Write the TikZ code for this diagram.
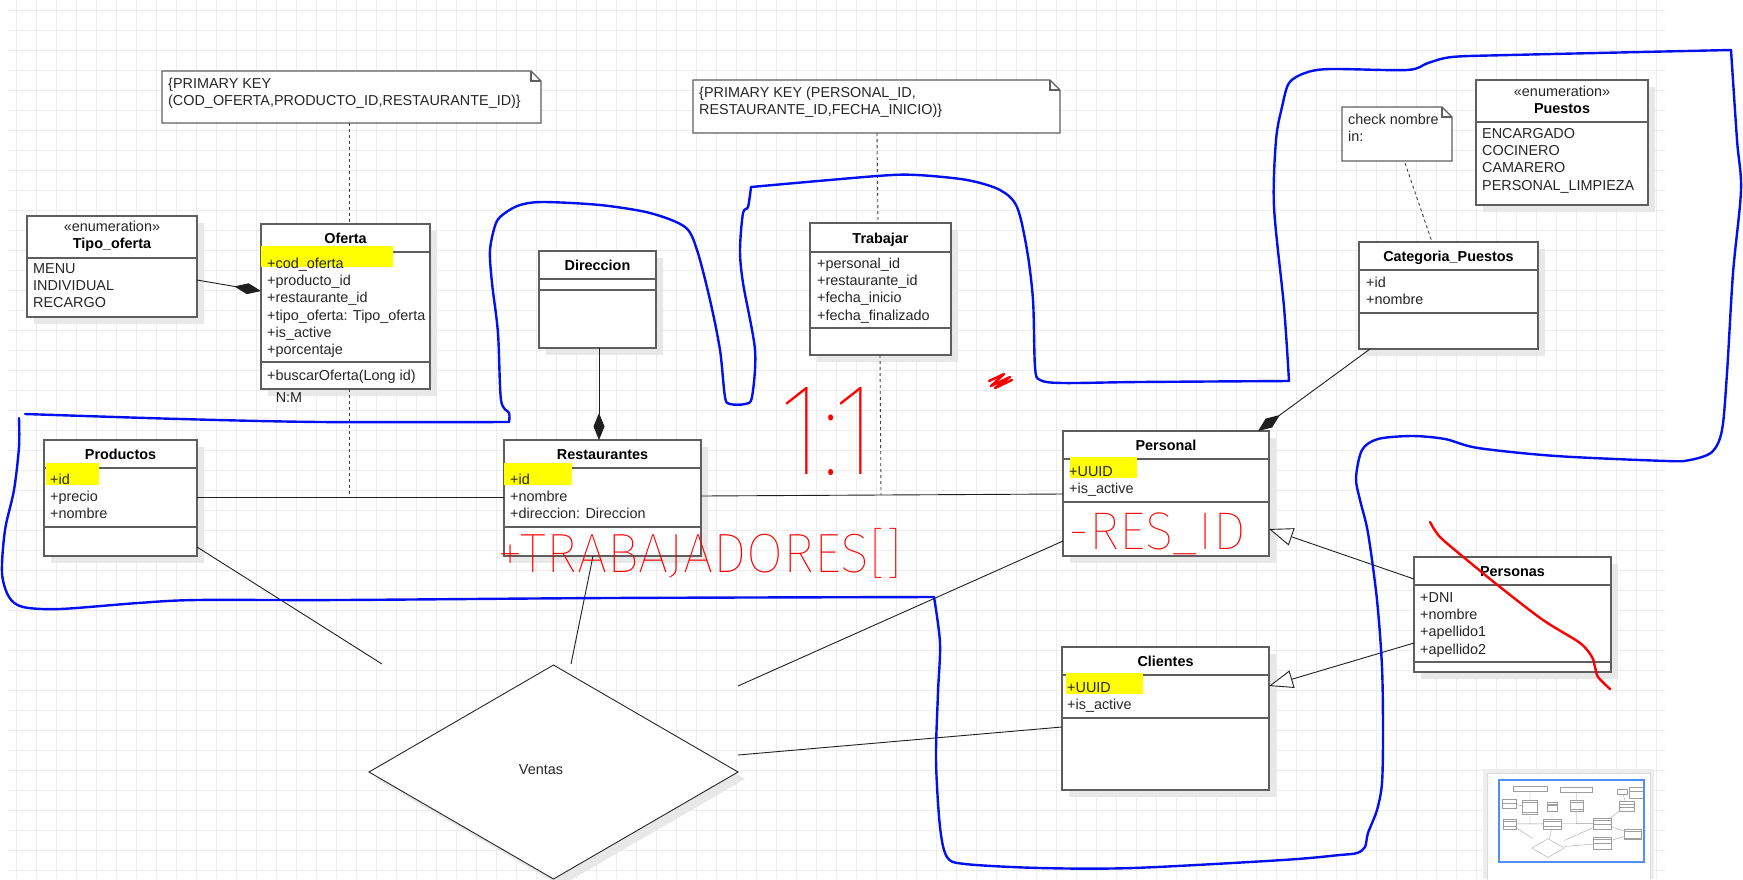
\documentclass[tikz,border=0pt]{standalone}
\usepackage{fontspec}
\setmainfont{Liberation Sans}
\newfontfamily\handfont{Fira Sans Thin}
\usetikzlibrary{arrows.meta,calc,shapes.geometric}
\definecolor{boxc}{HTML}{5E5E5E}
\definecolor{txtc}{HTML}{262626}
\definecolor{gridc}{HTML}{EDEDED}
\definecolor{shadc}{HTML}{E8E8E8}
\definecolor{hly}{HTML}{FFFF00}
\definecolor{penblue}{HTML}{0010F0}
\definecolor{penred}{HTML}{FF0000}
\definecolor{minib}{HTML}{4F8FF7}
\newcommand{\strt}{\rule{0pt}{10.5pt}}
\tikzset{
  boxs/.style={draw=boxc, line width=1.3pt, fill=white, inner sep=0pt, outer sep=0pt, anchor=north west},
  divl/.style={draw=boxc, line width=1.3pt},
  notel/.style={draw=boxc, line width=1.3pt, fill=white, line join=miter},
  ttl/.style={font={\bfseries\fontsize{14.4}{17.28}\selectfont}, text=black, inner sep=0pt, anchor=base},
  stereo/.style={font={\fontsize{14.4}{17.28}\selectfont}, text=txtc, inner sep=0pt, anchor=base},
  attr/.style={font={\fontsize{14.4}{17.28}\selectfont}, text=txtc, inner sep=0pt, align=left, anchor=north west},
  conn/.style={draw=black!88, line width=0.9pt},
  dashc/.style={draw=black!75, line width=0.9pt, dash pattern=on 3pt off 3pt},
  comp/.style={conn, -{Diamond[length=27pt,width=11pt]}},
  gener/.style={conn, -{Triangle[length=24pt,width=18pt,fill=white]}},
  bluepen/.style={draw=penblue, line width=2.4pt, line join=round, line cap=round},
  redpen/.style={draw=penred, line width=2.4pt, line join=round, line cap=round},
  redtxt/.style={text=penred, inner sep=0pt, outer sep=0pt, font=\handfont},
  mini/.style={draw=black!38, line width=0.35pt},
}
\newcommand{\umlclass}[7]{%
  \fill[shadc] (#2+7,#3+7) rectangle (#4+7,#5+7);
  \node[boxs, minimum width={#4-#2}, minimum height={#5-#3}] (#1) at (#2,#3) {};
  \draw[divl] (#2,#6) -- (#4,#6);
  \draw[divl] (#2,#7) -- (#4,#7);
}
\newcommand{\umlenum}[6]{%
  \fill[shadc] (#2+7,#3+7) rectangle (#4+7,#5+7);
  \node[boxs, minimum width={#4-#2}, minimum height={#5-#3}] (#1) at (#2,#3) {};
  \draw[divl] (#2,#6) -- (#4,#6);
}
\newcommand{\umlnote}[5]{%
  \node[inner sep=0pt, outer sep=0pt, anchor=north west, minimum width={#4-#2}, minimum height={#5-#3}] (#1) at (#2,#3) {};
  \draw[notel] (#1.north west) -- ([xshift=-10pt]#1.north east) -- ([yshift=-10pt]#1.north east) -- (#1.south east) -- (#1.south west) -- cycle;
  \draw[notel, fill=none] ([xshift=-10pt]#1.north east) -- ([xshift=-10pt,yshift=-10pt]#1.north east) -- ([yshift=-10pt]#1.north east);
}
\newcommand{\miniclass}[6]{%
  \draw[mini, fill=white] (#1,#2) rectangle (#3,#4);
  \draw[mini] (#1,#5) -- (#3,#5);
  \draw[mini] (#1,#6) -- (#3,#6);
}
\begin{document}
\begin{tikzpicture}[x=1pt, y=-1pt]
\useasboundingbox (0,0) rectangle (1743,879);
\fill[white] (0,0) rectangle (1743,879);
% grid
\foreach \i in {0,...,82} \draw[gridc, line width=0.9pt] (16.7+20*\i,0) -- (16.7+20*\i,879);
\foreach \j in {0,...,43} \draw[gridc, line width=0.9pt] (8,10+20*\j) -- (1665,10+20*\j);

% ---------- notes ----------
\umlnote{note1}{162}{71}{541}{123}
\umlnote{note2}{693}{80}{1060}{133}
\umlnote{note3}{1342}{107}{1452}{161}

% ---------- classes ----------
\umlenum{tipo}{27}{216}{197}{317}{258}
\umlclass{oferta}{261}{224}{430}{389}{252}{362}
\umlclass{direccion}{539}{251}{656}{348}{279}{290}
\umlclass{trabajar}{810}{223}{951}{355}{252}{328}
\umlenum{puestos}{1476}{80}{1648}{205}{122}
\umlclass{cat}{1359}{242}{1538}{349}{270}{313}
\umlclass{prod}{44}{440}{197}{556}{468}{527}
\umlclass{rest}{504}{440}{701}{556}{468}{527}
\umlclass{personal}{1063}{431}{1269}{556}{459}{502}
\umlclass{clientes}{1062}{647}{1269}{790}{675}{718}
\umlclass{personas}{1414}{557}{1611}{672}{585}{662}

% Ventas
\fill[shadc] (376,779) -- (560.5,672) -- (745,779) -- (560.5,886) -- cycle;
\node[shape=diamond, draw=black!85, line width=0.9pt, fill=white, minimum width=369pt, minimum height=214pt, inner sep=0pt, outer sep=0pt] (ventas) at (553.5,772) {};

% highlights
\fill[hly] (261,246) rectangle (393,267);
\fill[hly] (46,463) rectangle (99,485);
\fill[hly] (504,463) rectangle (572,485);
\fill[hly] (1070,457) rectangle (1137,478);
\fill[hly] (1066,673) rectangle (1143,694);

% ---------- texts ----------
\node[attr] (note1-t) at (168,77.5) {\strt\{PRIMARY KEY\\(COD\_OFERTA,PRODUCTO\_ID,RESTAURANTE\_ID)\}};
\node[attr] (note2-t) at (699,86.5) {\strt\{PRIMARY KEY (PERSONAL\_ID,\\RESTAURANTE\_ID,FECHA\_INICIO)\}};
\node[attr] (note3-t) at (1348,113.5) {\strt check nombre\\in:};

\node[stereo] (tipo-st) at (112,231) {«enumeration»};
\node[ttl] (tipo-n) at (112,248) {Tipo\_oferta};
\node[attr] (tipo-i) at (33,262.5) {\strt MENU\\INDIVIDUAL\\RECARGO};

\node[ttl] (oferta-n) at (345.5,243) {Oferta};
\node[attr] (oferta-a) at (267,257.5) {\strt +cod\_oferta\\+producto\_id\\+restaurante\_id\\+tipo\_oferta: Tipo\_oferta\\+is\_active\\+porcentaje};
\node[attr] (oferta-m) at (267,369.5) {\strt +buscarOferta(Long id)};
\node[stereo] (nm) at (289,402) {N:M};

\node[ttl] (direccion-n) at (597.5,270) {Direccion};

\node[ttl] (trabajar-n) at (880.5,243) {Trabajar};
\node[attr] (trabajar-a) at (817,257.5) {\strt +personal\_id\\+restaurante\_id\\+fecha\_inicio\\+fecha\_finalizado};

\node[stereo] (puestos-st) at (1562,96) {«enumeration»};
\node[ttl] (puestos-n) at (1562,113) {Puestos};
\node[attr] (puestos-i) at (1482,127.5) {\strt ENCARGADO\\COCINERO\\CAMARERO\\PERSONAL\_LIMPIEZA};

\node[ttl] (cat-n) at (1448.5,261) {Categoria\_Puestos};
\node[attr] (cat-a) at (1366,276.5) {\strt +id\\+nombre};

\node[ttl] (prod-n) at (120.5,459) {Productos};
\node[attr] (prod-a) at (50,473.5) {\strt +id\\+precio\\+nombre};

\node[ttl] (rest-n) at (602.5,459) {Restaurantes};
\node[attr] (rest-a) at (510,473.5) {\strt +id\\+nombre\\+direccion: Direccion};

\node[ttl] (personal-n) at (1166,450) {Personal};
\node[attr] (personal-a) at (1069,465.5) {\strt +UUID\\+is\_active};

\node[ttl] (clientes-n) at (1165.5,666) {Clientes};
\node[attr] (clientes-a) at (1067,681.5) {\strt +UUID\\+is\_active};

\node[ttl] (personas-n) at (1512.5,576) {Personas};
\node[attr] (personas-a) at (1420,591.5) {\strt +DNI\\+nombre\\+apellido1\\+apellido2};

\node[stereo] (ventas-t) at (541,774) {Ventas};

% ---------- connectors ----------
\coordinate (assoc1) at (349,497);
\coordinate (assoc2) at (881,495);
\coordinate (v1) at (382,664);
\coordinate (v2) at (571,664);
\coordinate (v3) at (738,686);
\coordinate (v4) at (738,755);

\draw[conn] ($(prod.north east)+(0,57)$) -- ($(rest.north west)+(0,57)$);
\draw[conn] ($(rest.north east)+(0,56)$) -- ($(personal.north west)+(0,63)$);
\draw[dashc] ($(note1.south west)+(187,0)$) -- ($(oferta.north west)+(88,0)$);
\draw[dashc] ($(oferta.south west)+(88,0)$) -- (assoc1);
\draw[dashc] ($(note2.south west)+(184,0)$) -- ($(trabajar.north west)+(68,0)$);
\draw[dashc] ($(trabajar.south west)+(70,0)$) -- (assoc2);
\draw[dashc] ($(note3.south west)+(63,2)$) -- ($(cat.north west)+(73,0)$);

\draw[comp] ($(tipo.north east)+(0,64)$) -- ($(oferta.north west)+(0,67)$);
\draw[comp] ($(direccion.south west)+(60,0)$) -- ($(rest.north west)+(95,0)$);
\draw[comp] ($(cat.south west)+(11,0)$) -- ($(personal.north west)+(195,0)$);

\draw[conn] ($(prod.south east)+(0,-9)$) -- (v1);
\draw[conn] ($(rest.south west)+(89,0)$) -- (v2);
\draw[conn] ($(personal.south west)+(0,-15)$) -- (v3);
\draw[conn] ($(clientes.north west)+(0,80)$) -- (v4);

\draw[gener] ($(personas.north west)+(0,22)$) -- ($(personal.north east)+(0,98)$);
\draw[gener] ($(personas.north west)+(0,86)$) -- ($(clientes.north east)+(0,39)$);

% ---------- minimap ----------
\fill[black!7] (1483,769) rectangle (1654,879);
\draw[black!14, line width=1pt, fill=white] (1487,773) rectangle (1650,885);
\begin{scope}
\clip (1499,780) rectangle (1644,862);
\begin{scope}[shift={(1499.3,780.1)}, scale=0.088]
  \draw[mini, fill=white] (162,71) rectangle (541,123);
  \draw[mini, fill=white] (693,80) rectangle (1060,133);
  \draw[mini, fill=white] (1342,107) rectangle (1452,161);
  \miniclass{27}{216}{197}{317}{258}{258}
  \miniclass{261}{224}{430}{389}{252}{362}
  \miniclass{539}{251}{656}{348}{279}{290}
  \miniclass{810}{223}{951}{355}{252}{328}
  \miniclass{1476}{80}{1648}{205}{122}{122}
  \miniclass{1359}{242}{1538}{349}{270}{313}
  \miniclass{44}{440}{197}{556}{468}{527}
  \miniclass{504}{440}{701}{556}{468}{527}
  \miniclass{1063}{431}{1269}{556}{459}{502}
  \miniclass{1062}{647}{1269}{790}{675}{718}
  \miniclass{1414}{557}{1611}{672}{585}{662}
  \draw[mini, fill=white] (369,772) -- (553,665) -- (738,772) -- (553,879) -- cycle;
  \draw[mini] (197,497) -- (504,497) (701,496) -- (1063,494) (349,123) -- (349,224) (349,389) -- (349,497)
    (877,133) -- (878,223) (880,355) -- (881,495) (197,280) -- (261,291) (599,348) -- (599,440)
    (1370,349) -- (1258,431) (197,547) -- (382,664) (593,556) -- (571,664) (1063,541) -- (738,686)
    (1062,727) -- (738,755) (1414,579) -- (1269,529) (1414,643) -- (1269,686) (1405,161) -- (1432,242);
\end{scope}
\end{scope}
\draw[minib, line width=1.4pt] (1499,780) rectangle (1644,862);

% ---------- hand annotations ----------
\draw[bluepen] plot[smooth, tension=0.5] coordinates {(25,414) (180,419) (321,422) (509,422)};
\draw[bluepen] plot[smooth, tension=0.5] coordinates {(509,422) (509,413) (501,400) (498,333) (492,283) (490,250) (496,223) (505,213) (520,205) (543,202) (600,205) (650,213) (685,227) (697,250) (710,300) (720,350) (725,397) (730,404) (745,404) (752,397) (755,350) (743,283) (740,250) (743,213) (748,207) (751,187)};
\draw[bluepen] plot[smooth, tension=0.5] coordinates {(751,187) (877,176) (917,175) (967,180) (1000,190) (1017,207) (1027,250) (1033,300) (1035,367) (1040,380) (1063,383) (1139,382) (1289,381)};
\draw[bluepen] plot[smooth, tension=0.5] coordinates {(1289,381) (1284,307) (1274,207) (1276,140) (1282,107) (1289,83) (1305,73) (1330,69) (1407,70) (1428,63) (1452,57) (1510,55) (1731,50)};
\draw[bluepen] plot[smooth, tension=0.5] coordinates {(1731,50) (1737,140) (1741,190) (1733,273) (1727,373) (1722,430) (1712,452) (1690,460) (1667,461) (1556,456) (1478,448) (1445,439) (1412,436) (1378,439) (1362,450) (1356,478) (1360,500) (1368,533) (1377,600) (1382,667) (1383,733) (1382,783) (1377,810) (1368,833) (1365,847) (1357,853) (1340,855) (1283,860) (1133,868) (1040,868) (965,864) (947,857) (940,827) (936,760) (938,693) (940,643) (934,597)};
\draw[bluepen] plot[smooth, tension=0.5] coordinates {(934,597) (608,598) (340,600) (197,600) (138,603) (60,609) (23,607) (9,597) (2,573) (5,530) (14,490) (19,447) (19,418)};

\node[redtxt] (trabajadores) at (700,553) {\resizebox*{405pt}{50pt}{+TRABAJADORES[]}};
\node[redtxt] (unouno) at (828,432) {\resizebox*{95pt}{88pt}{1:1}};
\node[redtxt] (resid) at (1157,534) {\resizebox*{177pt}{42pt}{-RES\_ID}};
\draw[redpen] (989,381) -- (1004,374) -- (991,386) -- (1010,377) -- (995,388) -- (1012,380);
\draw[redpen] plot[smooth, tension=0.5] coordinates {(1430,522) (1440,537) (1467,560) (1500,587) (1543,620) (1580,643) (1592,657) (1595,667) (1598,677) (1610,689)};
\end{tikzpicture}
\end{document}
